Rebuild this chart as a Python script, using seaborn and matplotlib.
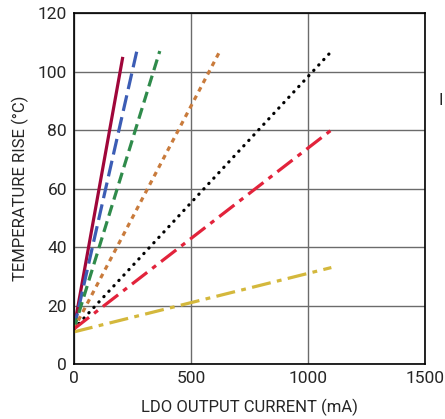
import pandas as pd
import numpy as np
import seaborn as sns
import matplotlib.pyplot as plt

# endpoints (current mA, temperature rise C)
series_names = ["s1", "s2", "s3", "s4", "s5", "s6", "s7"]
x_start = [0, 0, 0, 0, 0, 0, 0]
y_start = [12, 12, 12, 12, 12, 12, 11]
x_end = [209, 269, 367, 624, 1090, 1100, 1100]
y_end = [105, 107, 107, 107, 106, 80, 33]

colors = ["#A0063A", "#3C5DB5", "#2F8B4B", "#C97B3C", "#000000", "#E2233B", "#D4B83C"]
styles = ["-", (0, (5, 2)), (0, (3.5, 1.8)), (0, (1.5, 1.5)), (0, (0.1, 2.2)),
          (0, (6, 2, 1.5, 2)), (0, (6, 2, 1.5, 2))]

rows = []
for n, xs, ys, xe, ye in zip(series_names, x_start, y_start, x_end, y_end):
    rows.append({"name": n, "I": xs, "T": ys})
    rows.append({"name": n, "I": xe, "T": ye})
df = pd.DataFrame(rows)

sns.set_style("white")
plt.rcParams['font.family'] = ['Roboto', 'DejaVu Sans']

fig = plt.figure(figsize=(4.45, 4.19), dpi=100)
ax = fig.add_axes([0.166, 0.131, 0.789, 0.838])

for n, c, ls in zip(series_names, colors, styles):
    sub = df[df["name"] == n]
    sns.lineplot(data=sub, x="I", y="T", ax=ax, color=c, lw=2.3,
                 linestyle=ls, solid_capstyle="butt",
                 dash_capstyle="round" if n == "s5" else "butt")

ax.set_xlim(0, 1500)
ax.set_ylim(0, 120)
ax.set_xticks([0, 500, 1000, 1500])
ax.set_yticks(range(0, 121, 20))
ax.grid(True, color="#6b6b6b", lw=1.0)
ax.set_axisbelow(True)
for s in ax.spines.values():
    s.set_color("black")
    s.set_linewidth(1.2)
ax.tick_params(axis="both", labelsize=12.5, length=0, pad=5)
ax.set_xlabel("LDO OUTPUT CURRENT (mA)", fontsize=12, labelpad=9)
ax.set_ylabel("TEMPERATURE RISE (°C)", fontsize=12, labelpad=6)

fig.text(0.985, 0.76, "I", fontsize=12, ha="left", va="center")

plt.savefig("out.png", dpi=100)
